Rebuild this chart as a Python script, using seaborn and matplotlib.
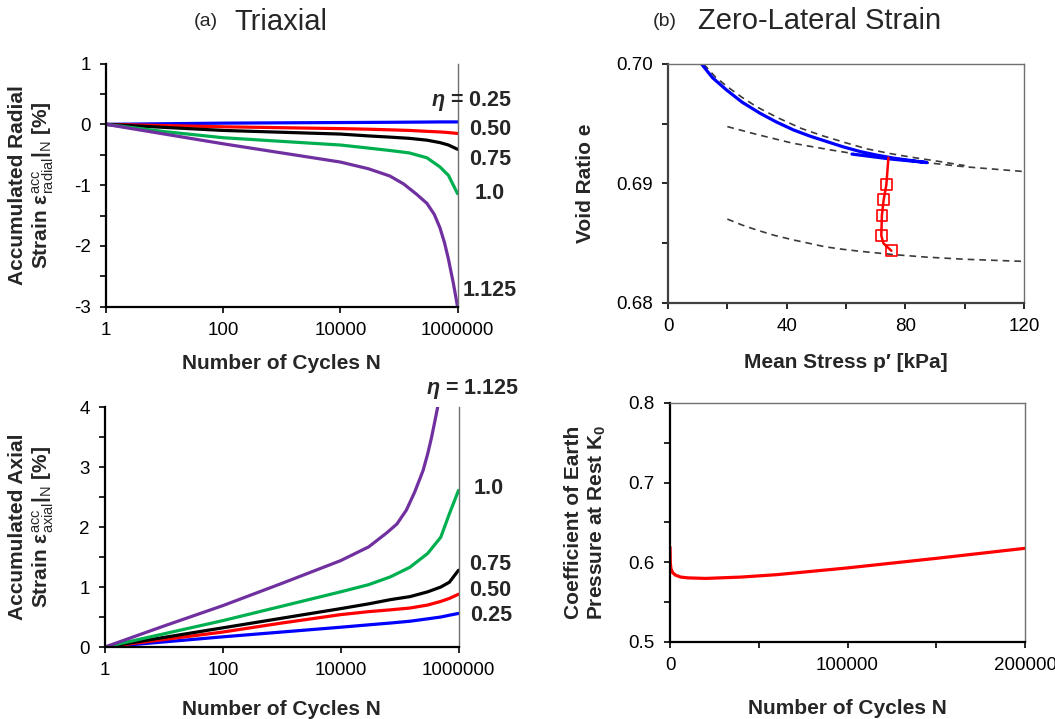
import numpy as np
import pandas as pd
import matplotlib
matplotlib.use("Agg")
import matplotlib.pyplot as plt
import seaborn as sns
from matplotlib.ticker import FixedLocator, MultipleLocator, NullLocator, FormatStrFormatter

sns.set_theme(style="ticks")
plt.rcParams['font.family'] = ['Liberation Sans', 'DejaVu Sans']
plt.rcParams['axes.unicode_minus'] = False
plt.rcParams['mathtext.fontset'] = 'custom'
plt.rcParams['mathtext.rm'] = 'Liberation Sans'
plt.rcParams['mathtext.bf'] = 'Liberation Sans:bold'
plt.rcParams['mathtext.it'] = 'Liberation Sans:italic'
plt.rcParams['mathtext.bfit'] = 'Liberation Sans:bold:italic'

# ---------------- data ----------------
eta_labels = ["0.25", "0.50", "0.75", "1.0", "1.125"]
colors = ["#0000FF", "#FF0000", "#000000", "#00B050", "#7030A0"]

N_cycles = [1, 10, 100, 1000, 1e4, 3e4, 7e4, 1.5e5, 3e5, 5e5, 7e5, 1e6]

radial_025 = [0, 0.01, 0.02, 0.025, 0.03, 0.032, 0.034, 0.036, 0.038, 0.04, 0.04, 0.04]
radial_050 = [0, -0.02, -0.04, -0.055, -0.07, -0.08, -0.09, -0.10, -0.115, -0.125, -0.135, -0.15]
radial_075 = [0, -0.05, -0.10, -0.13, -0.16, -0.19, -0.21, -0.23, -0.26, -0.30, -0.34, -0.41]
radial_100 = [0, -0.12, -0.22, -0.28, -0.34, -0.39, -0.43, -0.47, -0.55, -0.70, -0.84, -1.14]
radial_1125_N = [1, 10, 100, 1000, 1e4, 3e4, 7e4, 1.2e5, 2e5, 3e5, 4e5, 5e5, 6e5, 7e5, 8.5e5, 1e6]
radial_1125 = [0, -0.16, -0.32, -0.47, -0.62, -0.73, -0.85, -0.98, -1.15, -1.30, -1.48, -1.70, -1.95, -2.22, -2.62, -3.00]

axial_025 = [0, 0.085, 0.17, 0.25, 0.33, 0.37, 0.40, 0.43, 0.47, 0.50, 0.53, 0.56]
axial_050 = [0, 0.125, 0.25, 0.40, 0.54, 0.59, 0.62, 0.65, 0.70, 0.76, 0.81, 0.88]
axial_075 = [0, 0.16, 0.32, 0.48, 0.64, 0.72, 0.79, 0.84, 0.92, 1.00, 1.08, 1.28]
axial_100 = [0, 0.22, 0.44, 0.68, 0.92, 1.04, 1.17, 1.33, 1.56, 1.83, 2.22, 2.61]
axial_1125_N = [1, 10, 100, 1000, 1e4, 3e4, 6e4, 9e4, 1.3e5, 1.8e5, 2.5e5, 3e5, 3.5e5, 4e5, 4.6e5]
axial_1125 = [0, 0.35, 0.69, 1.06, 1.44, 1.67, 1.90, 2.05, 2.28, 2.58, 2.94, 3.22, 3.50, 3.78, 4.08]

# zero-lateral strain: void ratio vs mean stress
load_p = [11.3, 15.0, 19.7, 25.0, 31.0, 36.5, 42.3, 48.0, 53.5, 59.0, 64.8, 70.5, 76.1, 82.0, 87.3, 75.0, 62.0]
load_e = [0.7000, 0.69885, 0.69783, 0.69680, 0.69588, 0.69515, 0.69448, 0.69395, 0.69351, 0.69307, 0.69267, 0.69237, 0.69212, 0.69192, 0.69175, 0.69205, 0.69246]

cyc_p = [74.3, 73.6, 72.7, 72.1, 71.9, 72.6, 75.3]
cyc_e = [0.69215, 0.68989, 0.68864, 0.68733, 0.68565, 0.68500, 0.68437]
marker_p = [73.6, 72.7, 72.1, 71.9, 75.3]
marker_e = [0.68989, 0.68864, 0.68733, 0.68565, 0.68437]

ncl_p = [12, 16, 20, 25, 30, 37, 45, 52, 60, 67, 75, 82, 90, 100]
ncl_e = [0.7000, 0.6989, 0.6981, 0.6972, 0.6964, 0.6955, 0.6946, 0.6940, 0.6934, 0.6929, 0.6925, 0.6922, 0.6919, 0.6915]
url1_p = [20, 30, 42, 55, 65, 76, 87, 100, 110, 120]
url1_e = [0.69476, 0.6941, 0.69337, 0.6928, 0.69240, 0.69205, 0.69175, 0.6914, 0.6912, 0.69100]
url2_p = [20, 25, 30, 36, 42, 48, 53, 59, 65, 76, 87, 100, 120]
url2_e = [0.68702, 0.68652, 0.6861, 0.68565, 0.68529, 0.68497, 0.6847, 0.68449, 0.68432, 0.68405, 0.68384, 0.68366, 0.68348]

# K0 vs number of cycles
k0_N = [0, 150, 500, 1500, 3000, 6000, 10000, 20000, 40000, 60000, 100000, 150000, 200000]
k0_val = [0.619, 0.600, 0.592, 0.587, 0.584, 0.5815, 0.5805, 0.5798, 0.5815, 0.5845, 0.593, 0.605, 0.6176]

radial = [radial_025, radial_050, radial_075, radial_100, radial_1125]
axial = [axial_025, axial_050, axial_075, axial_100, axial_1125]

# ---------------- figure ----------------
fig = plt.figure(figsize=(10.55, 7.19), dpi=100)
ax_tl = fig.add_axes([0.1005, 0.5734, 0.3332, 0.3382])
ax_bl = fig.add_axes([0.0995, 0.1001, 0.3351, 0.3338])
ax_tr = fig.add_axes([0.6332, 0.5786, 0.3374, 0.3324])
ax_br = fig.add_axes([0.6351, 0.1071, 0.3365, 0.3324])

TICK_FS = 13.5
LAB_FS = 15
ANN_FS = 15.5

def style_axes(ax, top_visible):
    ax.spines['left'].set_color('black')
    ax.spines['bottom'].set_color('black')
    ax.spines['left'].set_linewidth(1.6)
    ax.spines['bottom'].set_linewidth(1.6)
    ax.spines['right'].set_color('#707070')
    ax.spines['right'].set_linewidth(1.0)
    ax.spines['top'].set_visible(top_visible)
    ax.spines['top'].set_color('#707070')
    ax.spines['top'].set_linewidth(1.0)
    ax.tick_params(which='both', direction='out', length=4, width=1.2, color='black',
                   labelsize=TICK_FS, pad=7, labelcolor='black')

# ---- top-left: radial strain ----
for i, (vals, c) in enumerate(zip(radial, colors)):
    xs = radial_1125_N if i == 4 else N_cycles
    df = pd.DataFrame({"N": xs, "eps": vals})
    sns.lineplot(data=df, x="N", y="eps", ax=ax_tl, color=c, lw=2.3, sort=False)
ax_tl.set_xscale('log')
ax_tl.set_xlim(1, 1e6)
ax_tl.set_ylim(-3, 1)
ax_tl.xaxis.set_major_locator(FixedLocator([1, 100, 1e4, 1e6]))
ax_tl.xaxis.set_minor_locator(NullLocator())
ax_tl.set_xticklabels(["1", "100", "10000", "1000000"])
ax_tl.yaxis.set_major_locator(MultipleLocator(1))
ax_tl.yaxis.set_minor_locator(MultipleLocator(0.5))
ax_tl.set_xlabel("Number of Cycles N", fontsize=LAB_FS, fontweight='bold', labelpad=11)
ax_tl.set_ylabel("Accumulated Radial\nStrain $\\mathbf{ε}_{\\mathrm{radial}}^{\\mathrm{acc}}\\mathbf{|}_{\\mathrm{N}}$ [%]",
                 fontsize=LAB_FS, fontweight='bold', linespacing=1.2)
ax_tl.yaxis.set_label_coords(-0.143, 0.5)
style_axes(ax_tl, False)

tl_ann = [("$\\mathbfit{\\eta}$ = 0.25", 1.154, 0.844), ("0.50", 1.154, 0.728), ("0.75", 1.154, 0.605),
          ("1.0", 1.135, 0.465), ("1.125", 1.169, 0.066)]
for txt, xf, yf in tl_ann:
    ax_tl.text(xf, yf, txt, transform=ax_tl.transAxes, ha='right', va='center',
               fontsize=ANN_FS, fontweight='bold', clip_on=False)

# ---- bottom-left: axial strain ----
for i, (vals, c) in enumerate(zip(axial, colors)):
    xs = axial_1125_N if i == 4 else N_cycles
    df = pd.DataFrame({"N": xs, "eps": vals})
    sns.lineplot(data=df, x="N", y="eps", ax=ax_bl, color=c, lw=2.3, sort=False)
ax_bl.set_xscale('log')
ax_bl.set_xlim(1, 1e6)
ax_bl.set_ylim(0, 4)
ax_bl.xaxis.set_major_locator(FixedLocator([1, 100, 1e4, 1e6]))
ax_bl.xaxis.set_minor_locator(NullLocator())
ax_bl.set_xticklabels(["1", "100", "10000", "1000000"])
ax_bl.yaxis.set_major_locator(MultipleLocator(1))
ax_bl.yaxis.set_minor_locator(MultipleLocator(0.5))
ax_bl.set_xlabel("Number of Cycles N", fontsize=LAB_FS, fontweight='bold', labelpad=15)
ax_bl.set_ylabel("Accumulated Axial\nStrain $\\mathbf{ε}_{\\mathrm{axial}}^{\\mathrm{acc}}\\mathbf{|}_{\\mathrm{N}}$ [%]",
                 fontsize=LAB_FS, fontweight='bold', linespacing=1.2)
ax_bl.yaxis.set_label_coords(-0.139, 0.5)
style_axes(ax_bl, False)

bl_ann = [("$\\mathbfit{\\eta}$ = 1.125", 1.172, 1.075), ("1.0", 1.129, 0.6625), ("0.75", 1.148, 0.342),
          ("0.50", 1.148, 0.2375), ("0.25", 1.151, 0.133)]
for txt, xf, yf in bl_ann:
    ax_bl.text(xf, yf, txt, transform=ax_bl.transAxes, ha='right', va='center',
               fontsize=ANN_FS, fontweight='bold', clip_on=False)

# ---- top-right: void ratio vs mean stress ----
dash_kw = dict(color='#3a3a3a', lw=1.2, dashes=(4, 3))
for px, ey in [(ncl_p, ncl_e), (url1_p, url1_e), (url2_p, url2_e)]:
    df = pd.DataFrame({"p": px, "e": ey})
    sns.lineplot(data=df, x="p", y="e", ax=ax_tr, sort=False, **dash_kw)
sns.lineplot(data=pd.DataFrame({"p": load_p, "e": load_e}), x="p", y="e", ax=ax_tr,
             color="#0000FF", lw=2.3, sort=False)
sns.lineplot(data=pd.DataFrame({"p": cyc_p, "e": cyc_e}), x="p", y="e", ax=ax_tr,
             color="#FF0000", lw=1.8, sort=False)
sns.scatterplot(data=pd.DataFrame({"p": marker_p, "e": marker_e}), x="p", y="e", ax=ax_tr,
                marker='s', s=60, facecolor='none', edgecolor='#FF0000', linewidth=1.2, zorder=5)
ax_tr.set_xlim(0, 120)
ax_tr.set_ylim(0.68, 0.70)
ax_tr.xaxis.set_major_locator(MultipleLocator(40))
ax_tr.xaxis.set_minor_locator(MultipleLocator(20))
ax_tr.yaxis.set_major_locator(MultipleLocator(0.01))
ax_tr.yaxis.set_minor_locator(MultipleLocator(0.005))
ax_tr.yaxis.set_major_formatter(FormatStrFormatter('%.2f'))
ax_tr.set_xlabel("Mean Stress p\u2032 [kPa]", fontsize=LAB_FS, fontweight='bold', labelpad=13)
ax_tr.set_ylabel("Void Ratio e", fontsize=LAB_FS, fontweight='bold')
ax_tr.yaxis.set_label_coords(-0.205, 0.5)
style_axes(ax_tr, True)
ax_tr.spines['left'].set_color('#404040')
ax_tr.spines['bottom'].set_color('#404040')

# ---- bottom-right: K0 ----
sns.lineplot(data=pd.DataFrame({"N": k0_N, "K0": k0_val}), x="N", y="K0", ax=ax_br,
             color="#FF0000", lw=2.3, sort=False)
ax_br.set_xlim(0, 200000)
ax_br.set_ylim(0.5, 0.8)
ax_br.xaxis.set_major_locator(MultipleLocator(100000))
ax_br.xaxis.set_minor_locator(MultipleLocator(50000))
ax_br.yaxis.set_major_locator(MultipleLocator(0.1))
ax_br.yaxis.set_minor_locator(MultipleLocator(0.05))
ax_br.xaxis.set_major_formatter(FormatStrFormatter('%d'))
ax_br.yaxis.set_major_formatter(FormatStrFormatter('%.1f'))
ax_br.set_xlabel("Number of Cycles N", fontsize=LAB_FS, fontweight='bold', labelpad=18)
ax_br.set_ylabel("Coefficient of Earth\nPressure at Rest K$_\\mathbf{0}$", fontsize=LAB_FS,
                 fontweight='bold', linespacing=1.2)
ax_br.yaxis.set_label_coords(-0.175, 0.5)
style_axes(ax_br, True)

# ---- titles ----
fig.text(206 / 1055, 1 - 22 / 719, "(a)", fontsize=14, ha='center', va='center')
fig.text(281 / 1055, 1 - 22 / 719, "Triaxial", fontsize=21, ha='center', va='center')
fig.text(665 / 1055, 1 - 21 / 719, "(b)", fontsize=14, ha='center', va='center')
fig.text(820 / 1055, 1 - 21 / 719, "Zero-Lateral Strain", fontsize=21, ha='center', va='center')

fig.savefig("out.png", dpi=100)
